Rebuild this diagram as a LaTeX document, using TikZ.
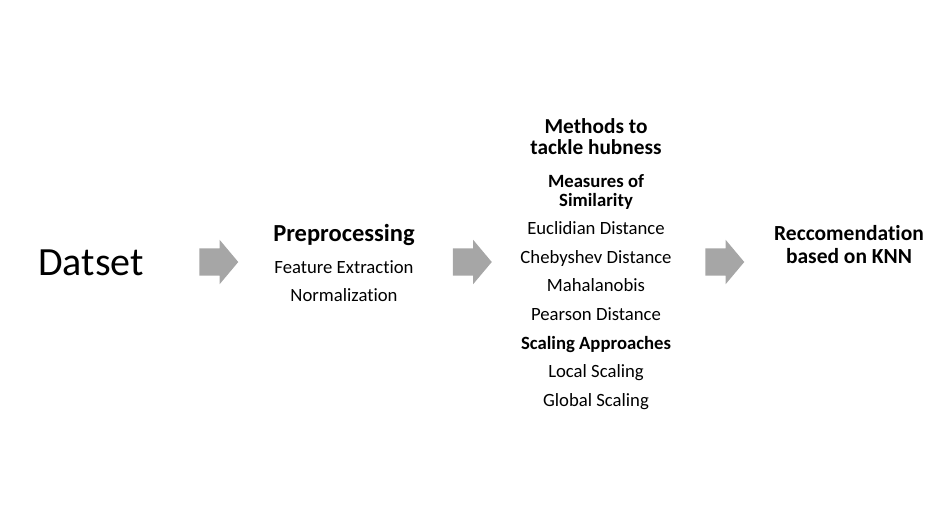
\documentclass[tikz,border=0pt]{standalone}
\usepackage{fontspec}
\setmainfont[Ligatures=NoCommon]{Carlito}
\usetikzlibrary{shapes.arrows}
\usepackage{xcolor}
\definecolor{arrowgray}{HTML}{A6A6A6}

\begin{document}
\begin{tikzpicture}[x=1pt, y=-1pt,
        big/.style={anchor=base, font=\fontsize{40}{48}\selectfont},
        title/.style={anchor=base, font=\bfseries\fontsize{24.5}{29}\selectfont},
        head/.style={anchor=base, font=\bfseries\fontsize{21.3}{26}\selectfont},
        result/.style={anchor=base, font=\bfseries\fontsize{21.5}{26}\selectfont},
        sub/.style={anchor=base, font=\bfseries\fontsize{18.7}{22}\selectfont},
        item/.style={anchor=base, font=\fontsize{18.7}{22}\selectfont},
        flow/.style={single arrow, fill=arrowgray, draw=none, inner xsep=0pt, inner ysep=13.5pt,
            single arrow head extend=8.5pt, single arrow tip angle=100, minimum height=39pt, outer sep=0pt}
    ]
        \useasboundingbox (0,0) rectangle (944,525);

        % Input
        \node[big] (data) at (91, 275.7) {Datset};
        \node[flow] (a1) at (213, 262) {};

        % Preprocessing
        \node[title] (pre) at (344, 241) {Preprocessing};
        \node[item] (feat) at (344, 273) {Feature Extraction};
        \node[item] (norm) at (344, 301.7) {Normalization};
        \node[flow] (a2) at (466.5, 262) {};

        % Methods
        \node[head] (meth1) at (596, 133.3) {Methods to};
        \node[head] (meth2) at (596, 154) {tackle hubness};
        \node[sub] (meas1) at (596, 187.3) {Measures of};
        \node[sub] (meas2) at (596, 206.7) {Similarity};
        \node[item] (eucl) at (596, 234) {Euclidian Distance};
        \node[item] (cheb) at (596, 263) {Chebyshev Distance};
        \node[item] (maha) at (596, 291.7) {Mahalanobis};
        \node[item] (pear) at (596, 320) {Pearson Distance};
        \node[sub] (scal) at (596, 349.3) {Scaling Approaches};
        \node[item] (local) at (596, 377.7) {Local Scaling};
        \node[item] (global) at (596, 406) {Global Scaling};
        \node[flow] (a3) at (719, 262) {};

        % Output
        \node[result] (rec1) at (849, 240.7) {Reccomendation};
        \node[result] (rec2) at (849, 263.3) {based on KNN};
    \end{tikzpicture}
\end{document}
